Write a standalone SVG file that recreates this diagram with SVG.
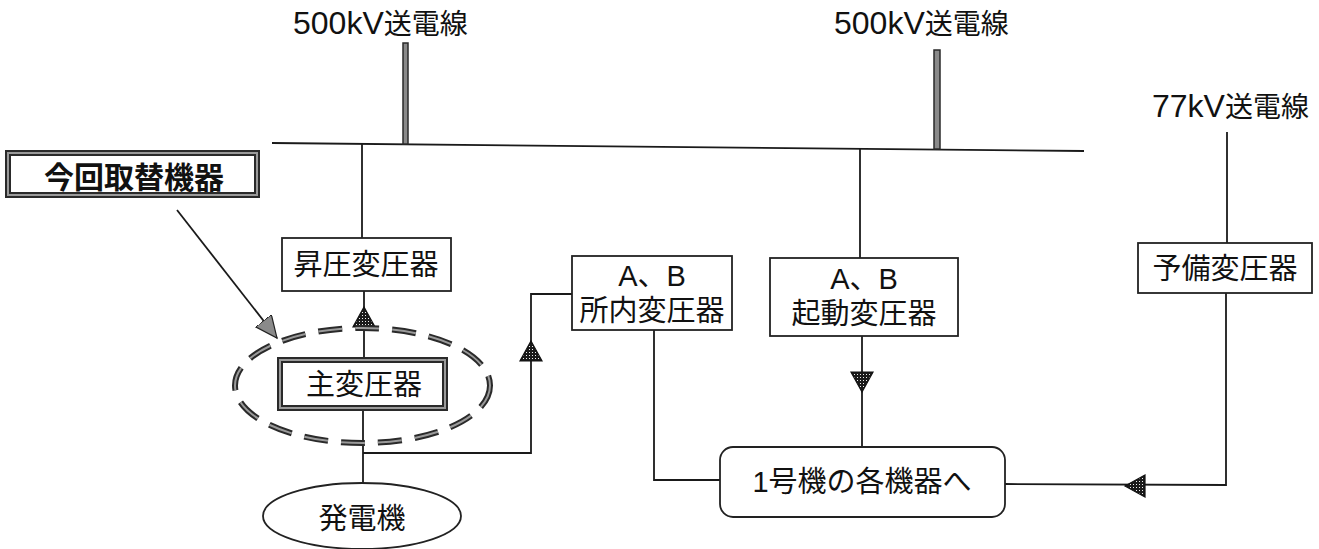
<svg xmlns="http://www.w3.org/2000/svg" width="1319" height="549" viewBox="0 0 1319 549">
<style>
text{font-family:"Liberation Sans","Noto Sans CJK JP",sans-serif;fill:#111}
.lbl{font-size:32px}
.cj{font-size:28px}
.t{font-size:29px;text-anchor:middle}
.b{font-size:30px;font-weight:bold;text-anchor:middle}
.box{fill:#fff;stroke:#222;stroke-width:1.8}
.frameO{fill:#fff;stroke:#2a2a2a;stroke-width:6}
.frameI{fill:none;stroke:#9a9a9a;stroke-width:2}
.ln{fill:none;stroke:#1a1a1a;stroke-width:1.8}
.bar{fill:#8a8a8a;stroke:#2a2a2a;stroke-width:1.5}
.tri{fill:url(#hatch);stroke:#111;stroke-width:1.2}
</style>
<defs>
<pattern id="hatch" width="3" height="3" patternUnits="userSpaceOnUse">
<rect width="3" height="3" fill="#1a1a1a"/><rect x="1" y="1" width="1" height="1" fill="#eee"/>
</pattern>
<path id="tri" d="M0,-10 L11,10 L-11,10 Z" class="tri"/>
<marker id="garrow" markerUnits="userSpaceOnUse" markerWidth="24" markerHeight="22" refX="22" refY="10" orient="auto">
<path d="M0,0 L22,10 L0,20 Z" fill="#8a8a8a" stroke="#222" stroke-width="1.2"/>
</marker>
</defs>

<g id="connectors">
<line class="ln" x1="272" y1="143" x2="1084" y2="151"/>
<rect class="bar" x="403" y="43" width="5" height="101"/>
<rect class="bar" x="934" y="50" width="6" height="99"/>
<line class="ln" x1="362" y1="144" x2="362" y2="238"/>
<line class="ln" x1="364" y1="291" x2="364" y2="357"/>
<line class="ln" x1="363" y1="411" x2="363" y2="483"/>
<polyline class="ln" points="363,453 531,453 531,294 572,294"/>
<polyline class="ln" points="654,330 654,480 720,480"/>
<line class="ln" x1="860" y1="148" x2="860" y2="258"/>
<line class="ln" x1="862" y1="336" x2="862" y2="447"/>
<line class="ln" x1="1227" y1="132" x2="1227" y2="243"/>
<polyline class="ln" points="1226,293 1226,485 1005,484"/>
<line x1="177" y1="210" x2="277" y2="338" stroke="#1a1a1a" stroke-width="1.8" marker-end="url(#garrow)"/>
<use href="#tri" transform="translate(364,317)"/>
<use href="#tri" transform="translate(531,351)"/>
<use href="#tri" transform="translate(862,382) rotate(180)"/>
<use href="#tri" transform="translate(1135,486) rotate(-90)"/>
<ellipse cx="362.5" cy="385.5" rx="127.5" ry="57.5" fill="none" stroke="#2a2a2a" stroke-width="6" stroke-dasharray="24 13"/>
<ellipse cx="362.5" cy="385.5" rx="127.5" ry="57.5" fill="none" stroke="#9a9a9a" stroke-width="2" stroke-dasharray="24 13"/>
</g>

<g id="label-500kv-1"><text class="lbl" x="293" y="34">500kV<tspan class="cj">送電線</tspan></text></g>
<g id="label-500kv-2"><text class="lbl" x="834" y="34">500kV<tspan class="cj">送電線</tspan></text></g>
<g id="label-77kv"><text class="lbl" x="1152" y="117">77kV<tspan class="cj">送電線</tspan></text></g>

<g id="node-konkai">
<rect class="frameO" x="8" y="153" width="249" height="42"/>
<rect class="frameI" x="8" y="153" width="249" height="42"/>
<text class="b" x="134" y="188">今回取替機器</text>
</g>

<g id="node-shoatsu">
<rect class="box" x="282" y="238" width="169" height="53"/>
<text class="t" x="366" y="275">昇圧変圧器</text>
</g>

<g id="node-shuhen">
<rect class="frameO" x="280" y="360" width="165" height="48"/>
<rect class="frameI" x="280" y="360" width="165" height="48"/>
<text class="t" x="364" y="395">主変圧器</text>
</g>

<g id="node-hatsudenki">
<ellipse cx="362" cy="516" rx="99" ry="33" fill="#fff" stroke="#222" stroke-width="1.8"/>
<text class="t" x="362" y="529">発電機</text>
</g>

<g id="node-shonai">
<rect class="box" x="572" y="256" width="160" height="74"/>
<text class="t" x="652" y="286">A、B</text>
<text class="t" x="652" y="321">所内変圧器</text>
</g>

<g id="node-kido">
<rect class="box" x="770" y="258" width="188" height="78"/>
<text class="t" x="864" y="289">A、B</text>
<text class="t" x="864" y="324">起動変圧器</text>
</g>

<g id="node-yobi">
<rect class="box" x="1138" y="243" width="174" height="50"/>
<text class="t" x="1225" y="279">予備変圧器</text>
</g>

<g id="node-1goki">
<rect class="box" x="720" y="447" width="285" height="70" rx="13"/>
<text class="t" x="862" y="492">1号機の各機器へ</text>
</g>
</svg>
